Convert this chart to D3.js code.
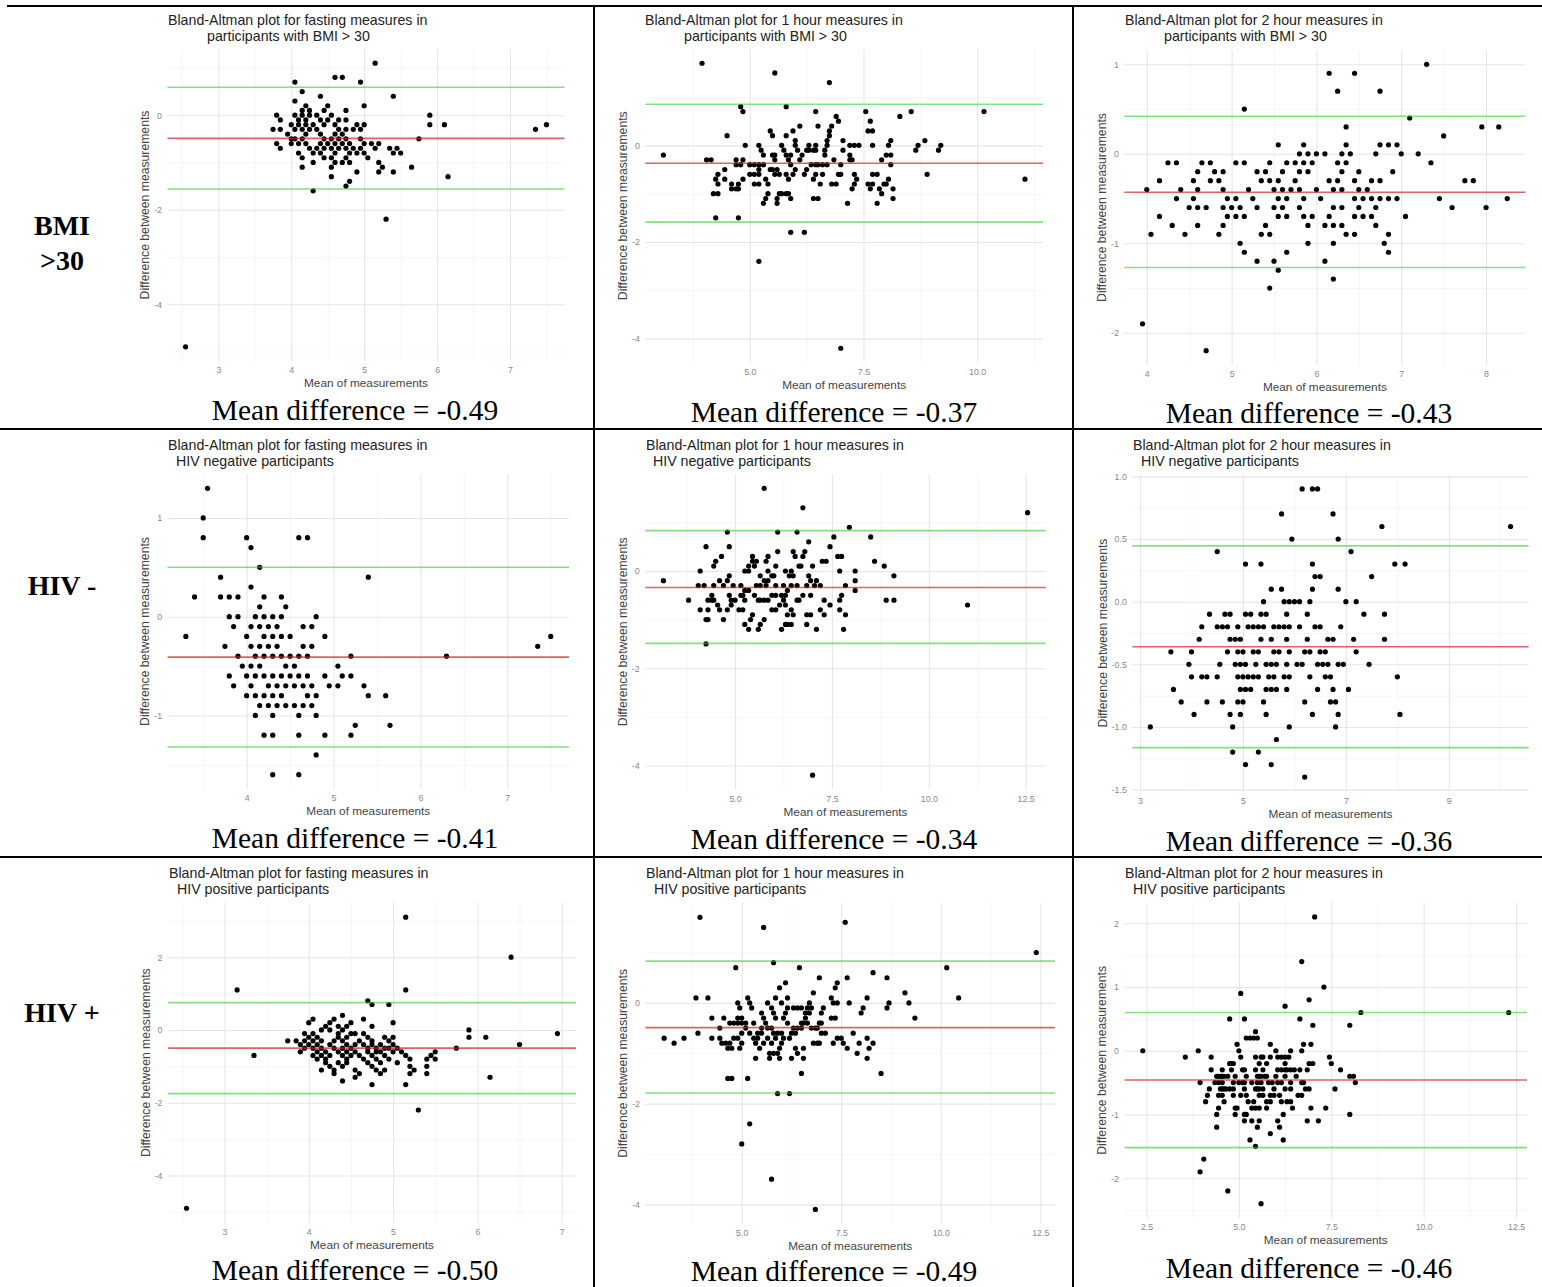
<!DOCTYPE html>
<html>
<head>
<meta charset="utf-8">
<script src="https://cdn.jsdelivr.net/npm/d3@7"></script>
<style>
  body { margin: 0; background: #fff; }
  svg { display: block; }
</style>
</head>
<body>
<div id="chart"></div>
<script>
// each row: [difference, mean1, mean2, ...]  (points sharing the same difference)
let bmiFasting = [
  [1.1, 5.15], [0.8, 4.6, 4.7], [0.7, 4.05, 4.95], [0.5, 4.15], [0.4, 4.4, 5.4], [0.3, 4.05],
  [0.2, 4.2, 4.5, 5.0], [0.1, 4.15, 4.25, 4.45, 4.75],
  [0.0, 3.8, 4.05, 4.15, 4.25, 4.35, 4.55, 5.9],
  [-0.1, 3.85, 4.1, 4.2, 4.4, 4.5, 4.65, 4.75],
  [-0.2, 4.0, 4.1, 4.2, 4.3, 4.45, 4.6, 4.9, 5.0, 5.9, 6.1, 7.5],
  [-0.3, 3.75, 3.85, 4.05, 4.15, 4.25, 4.35, 4.65, 4.75, 4.85, 4.95, 7.35],
  [-0.4, 3.95, 4.2, 4.4, 4.6, 4.7],
  [-0.5, 4.0, 4.05, 4.15, 4.45, 4.55, 4.65, 4.75, 4.95, 5.75],
  [-0.6, 3.8, 4.0, 4.1, 4.2, 4.4, 4.5, 4.6, 4.7, 4.8, 5.0, 5.1, 5.2],
  [-0.7, 3.85, 4.25, 4.35, 4.45, 4.55, 4.65, 4.75, 4.85, 4.95, 5.15, 5.35, 5.45],
  [-0.8, 4.1, 4.3, 4.4, 4.6, 4.8, 4.9, 5.0, 5.4, 5.5],
  [-0.9, 4.15, 4.45, 4.55, 4.75, 5.05],
  [-1.0, 4.3, 4.6, 4.7, 4.8, 5.2],
  [-1.1, 4.15, 4.55, 5.25, 5.65], [-1.2, 4.9, 5.2, 5.4], [-1.3, 4.55, 6.15],
  [-1.4, 4.8], [-1.5, 4.75], [-1.6, 4.3], [-2.2, 5.3], [-4.9, 2.55]
];

let bmi1h = [
  [1.7, 3.95], [1.5, 5.55], [1.3, 6.75], [0.8, 4.8, 5.8],
  [0.7, 4.85, 6.45, 7.55, 8.55, 10.15], [0.6, 6.9, 8.3], [0.5, 6.95, 7.65],
  [0.4, 6.1, 6.5, 6.8], [0.3, 5.45, 5.95, 6.75, 7.6, 7.7], [0.2, 4.5, 5.5, 5.8, 6.75],
  [0.1, 6.0, 6.7, 7.05, 8.1, 8.85],
  [0.0, 4.9, 5.2, 5.7, 6.0, 6.3, 6.45, 6.7, 7.2, 7.3, 7.4, 7.7, 8.05, 8.7, 9.2],
  [-0.1, 5.25, 5.75, 6.05, 6.25, 6.3, 6.4, 6.45, 6.65, 7.05, 8.65, 9.15],
  [-0.2, 3.1, 5.3, 5.5, 5.55, 5.8, 5.9, 6.15, 6.65, 7.2, 8.0, 8.1],
  [-0.3, 4.05, 4.15, 4.7, 4.85, 5.55, 5.85, 6.1, 6.85, 7.2, 7.25, 7.9],
  [-0.4, 4.7, 4.8, 5.0, 5.1, 5.2, 5.3, 5.9, 6.35, 6.45, 6.5, 6.6, 6.7, 7.0, 8.1],
  [-0.5, 4.45, 5.2, 5.45, 5.5, 5.6, 6.0, 6.25],
  [-0.6, 4.3, 5.0, 5.1, 5.2, 5.55, 5.65, 5.8, 5.95, 6.2, 6.45, 6.6, 6.95, 7.0, 7.3, 7.7, 7.8, 8.9],
  [-0.7, 4.25, 4.45, 4.85, 5.35, 5.85, 6.4, 7.35, 8.05, 11.05],
  [-0.8, 4.3, 4.6, 4.75, 5.1, 5.2, 5.4, 6.55, 6.8, 6.9, 7.3, 7.6, 7.7, 7.95, 8.0],
  [-0.9, 4.6, 4.7, 4.75, 7.25, 7.65, 7.85, 8.15],
  [-1.0, 4.2, 4.3, 5.4, 5.65, 5.7, 5.8, 5.85, 7.9],
  [-1.1, 5.35, 5.6, 5.9, 6.4, 6.5, 8.15], [-1.2, 5.3, 5.6, 7.15, 7.8],
  [-1.5, 4.25, 4.75], [-1.8, 5.9, 6.2], [-2.4, 5.2], [-4.2, 7.0]
];

let bmi2h = [
  [1.0, 7.3], [0.9, 6.15, 6.45], [0.7, 6.25, 6.75], [0.5, 5.15], [0.4, 7.1],
  [0.3, 6.35, 7.95, 8.15], [0.2, 7.5], [0.1, 5.55, 5.85, 6.35, 6.75, 6.85, 6.95],
  [0.0, 5.8, 5.9, 6.0, 6.1, 6.3, 6.4, 6.7, 7.0, 7.2],
  [-0.1, 4.25, 4.35, 4.65, 4.75, 5.05, 5.15, 5.45, 5.65, 5.75, 5.85, 5.95, 6.25, 6.35, 7.35],
  [-0.2, 4.6, 4.8, 4.9, 5.3, 5.4, 5.6, 5.8, 5.9, 6.3, 6.5, 6.9],
  [-0.3, 4.15, 4.55, 4.75, 4.85, 5.35, 5.45, 5.55, 5.75, 6.15, 6.25, 6.45, 6.65, 6.75, 7.75, 7.85],
  [-0.4, 4.0, 4.4, 4.6, 4.9, 5.2, 5.5, 5.6, 5.7, 5.8, 6.0, 6.2, 6.3, 6.5, 6.6],
  [-0.5, 4.35, 4.55, 4.95, 5.05, 5.25, 5.55, 5.65, 5.85, 6.05, 6.45, 6.55, 6.65, 6.75, 6.85, 6.95, 7.45, 8.25],
  [-0.6, 4.5, 4.6, 4.7, 4.9, 5.0, 5.1, 5.3, 5.5, 5.6, 5.8, 6.2, 6.3, 6.5, 6.7, 7.6, 8.0],
  [-0.7, 4.15, 4.95, 5.05, 5.15, 5.55, 5.65, 5.85, 5.95, 6.15, 6.45, 6.55, 6.65, 7.05],
  [-0.8, 4.3, 4.6, 4.9, 5.4, 5.9, 6.1, 6.2, 6.3, 6.7],
  [-0.9, 4.05, 4.45, 4.85, 5.35, 5.45, 6.35, 6.45, 6.85],
  [-1.0, 5.1, 5.9, 6.2, 6.8], [-1.1, 5.15, 5.65, 6.85], [-1.2, 5.3, 5.5, 6.1],
  [-1.3, 5.55], [-1.4, 6.2], [-1.5, 5.45], [-1.9, 3.95], [-2.2, 4.7]
];

let hivNegFasting = [
  [1.3, 3.55], [1.0, 3.5], [0.8, 3.5, 4.0, 4.6, 4.7], [0.7, 4.05], [0.5, 4.15],
  [0.4, 3.7, 5.4], [0.3, 4.05], [0.2, 3.4, 3.7, 3.8, 3.9, 4.2, 4.4], [0.1, 4.15, 4.45],
  [0.0, 3.8, 3.9, 4.1, 4.2, 4.3, 4.4, 4.8],
  [-0.1, 3.85, 4.05, 4.15, 4.25, 4.35, 4.65, 4.75],
  [-0.2, 3.3, 4.0, 4.2, 4.3, 4.4, 4.5, 4.9, 7.5],
  [-0.3, 3.75, 4.05, 4.15, 4.25, 4.35, 4.65, 4.75, 7.35],
  [-0.4, 3.9, 4.1, 4.2, 4.3, 4.4, 4.5, 4.6, 4.7, 5.2, 6.3],
  [-0.5, 3.95, 4.05, 4.15, 4.45, 4.55, 5.05],
  [-0.6, 3.8, 4.0, 4.1, 4.2, 4.3, 4.4, 4.5, 4.6, 4.7, 4.9, 5.1, 5.2],
  [-0.7, 3.85, 4.05, 4.25, 4.35, 4.45, 4.55, 4.65, 4.75, 4.95, 5.05, 5.35],
  [-0.8, 4.0, 4.1, 4.2, 4.3, 4.4, 4.7, 4.8, 5.4, 5.6],
  [-0.9, 4.15, 4.25, 4.35, 4.45, 4.55, 4.65, 4.75],
  [-1.0, 4.1, 4.3, 4.6, 4.8], [-1.1, 5.25, 5.65], [-1.2, 4.2, 4.3, 4.6, 4.9, 5.2],
  [-1.4, 4.8], [-1.6, 4.3, 4.6]
];

let hivNeg1h = [
  [1.7, 5.75], [1.3, 6.75], [1.2, 12.55], [0.9, 7.95], [0.8, 4.8, 6.1, 6.6],
  [0.7, 7.55, 8.5], [0.6, 6.9], [0.5, 4.25, 4.85, 7.45], [0.4, 6.1, 6.5, 6.8],
  [0.3, 4.65, 5.45, 5.85, 6.55, 6.75, 7.65, 7.75],
  [0.2, 4.5, 5.45, 5.55, 5.8, 7.25, 7.35, 8.6],
  [0.1, 4.45, 5.35, 5.5, 6.05, 6.65, 6.7, 7.0, 8.85],
  [0.0, 4.1, 5.25, 5.35, 5.85, 6.3, 6.45, 7.7, 8.1],
  [-0.1, 4.85, 5.65, 5.95, 6.0, 6.4, 6.5, 6.9, 9.1],
  [-0.2, 3.15, 4.6, 4.8, 5.75, 5.85, 6.95, 7.1, 8.1],
  [-0.3, 4.05, 4.2, 4.45, 4.7, 4.95, 5.15, 5.55, 5.65, 5.8, 6.05, 6.25, 6.45, 6.6, 6.85, 7.05, 7.2, 7.85],
  [-0.4, 5.25, 5.35, 6.35, 8.1],
  [-0.5, 4.4, 4.85, 5.15, 5.2, 5.5, 5.95, 6.05, 6.2, 6.3, 6.75, 6.95, 7.75],
  [-0.6, 3.8, 4.3, 4.4, 4.45, 4.9, 5.0, 5.25, 5.6, 5.65, 5.75, 5.85, 6.25, 6.6, 6.65, 7.3, 7.7, 8.9, 9.1],
  [-0.7, 4.55, 4.9, 6.15, 6.3, 7.45, 11.0],
  [-0.8, 4.1, 4.3, 4.6, 4.8, 5.1, 5.2, 5.95, 6.05, 6.45, 7.2, 7.7],
  [-0.9, 5.45, 6.35, 6.5, 6.85, 6.95, 7.3, 7.85],
  [-1.0, 4.25, 4.3, 4.7, 5.4, 5.75],
  [-1.1, 5.25, 5.65, 6.3, 6.35, 6.45, 6.85],
  [-1.2, 5.35, 5.6, 6.2, 7.1, 7.8], [-1.5, 4.25], [-4.2, 7.0]
];

let hivNeg2h = [
  [0.9, 6.15, 6.35, 6.45], [0.7, 5.75, 6.75], [0.6, 7.7, 10.2], [0.5, 5.95, 6.85],
  [0.4, 4.5, 7.1], [0.3, 5.05, 5.35, 6.35, 7.95, 8.15], [0.2, 6.4, 6.5, 7.5],
  [0.1, 5.55, 5.75, 6.35, 6.85],
  [0.0, 5.4, 5.8, 5.9, 6.0, 6.1, 6.3, 7.0, 7.2],
  [-0.1, 4.35, 4.65, 4.75, 5.05, 5.15, 5.35, 5.45, 5.85, 6.25, 7.35, 7.75],
  [-0.2, 4.2, 4.5, 4.6, 4.7, 4.9, 5.1, 5.2, 5.3, 5.4, 5.6, 5.7, 5.8, 5.9, 6.1, 6.4, 6.5, 6.9],
  [-0.3, 4.15, 4.75, 4.85, 4.95, 5.35, 5.55, 5.85, 6.25, 6.65, 6.75, 7.15, 7.75],
  [-0.4, 3.6, 4.0, 4.7, 4.9, 5.0, 5.2, 5.3, 5.6, 5.7, 5.9, 6.2, 6.3, 6.5, 6.6, 7.2],
  [-0.5, 3.95, 4.55, 4.85, 4.95, 5.05, 5.25, 5.45, 5.55, 5.65, 5.85, 6.05, 6.15, 6.45, 6.55, 6.65, 6.85, 6.95, 7.45],
  [-0.6, 4.0, 4.2, 4.3, 4.5, 4.9, 5.0, 5.1, 5.2, 5.3, 5.5, 5.6, 5.8, 5.9, 6.3, 6.6, 6.7, 8.0],
  [-0.7, 3.65, 4.95, 5.05, 5.15, 5.45, 5.55, 5.65, 5.85, 6.45, 6.75, 7.05],
  [-0.8, 3.8, 4.3, 4.6, 4.9, 5.0, 5.4, 6.2, 6.7, 6.8],
  [-0.9, 4.05, 4.75, 4.95, 5.45, 6.35, 6.85, 8.05],
  [-1.0, 3.2, 4.8, 5.9, 6.8], [-1.1, 5.65], [-1.2, 4.8, 5.3], [-1.3, 5.05, 5.55], [-1.4, 6.2]
];

let hivPosFasting = [
  [3.1, 5.15], [2.0, 6.4], [1.1, 3.15, 5.15], [0.8, 4.7], [0.7, 4.75, 4.95], [0.4, 4.4],
  [0.3, 4.05, 4.3, 4.65], [0.2, 4.0, 4.25, 4.5, 5.0], [0.1, 4.2, 4.35, 4.45, 4.75],
  [0.0, 4.15, 4.25, 4.4, 5.9],
  [-0.1, 3.95, 4.05, 4.35, 4.5, 4.55, 4.65, 6.95],
  [-0.2, 4.0, 4.1, 4.35, 4.45, 4.7, 4.9, 5.0, 5.9, 6.1],
  [-0.3, 3.75, 3.85, 3.95, 4.05, 4.15, 4.3, 4.4, 4.6, 4.75, 4.95],
  [-0.4, 3.9, 4.0, 4.1, 4.25, 4.45, 4.55, 4.65, 4.75, 4.85, 5.0, 6.5],
  [-0.5, 3.95, 4.05, 4.15, 4.3, 4.4, 4.5, 4.7, 4.8, 4.9, 4.95, 5.05, 5.75],
  [-0.6, 3.9, 4.1, 4.2, 4.35, 4.45, 4.55, 4.7, 4.8, 4.85, 5.0, 5.1, 5.5],
  [-0.7, 3.35, 4.05, 4.15, 4.25, 4.4, 4.5, 4.6, 4.75, 4.9, 5.15, 5.45],
  [-0.8, 4.1, 4.2, 4.45, 4.65, 4.8, 4.95, 5.2, 5.4, 5.5],
  [-0.9, 4.2, 4.35, 4.45, 4.7, 4.85, 5.05],
  [-1.0, 4.25, 4.4, 4.75, 5.2, 5.4],
  [-1.1, 4.15, 4.3, 4.55, 4.8, 4.9, 5.25],
  [-1.2, 4.3, 4.6, 4.85, 5.2, 5.4],
  [-1.3, 4.55, 6.15], [-1.4, 4.4], [-1.5, 4.75, 5.15], [-2.2, 5.3], [-4.9, 2.55]
];

let hivPos1h = [
  [1.7, 3.95], [1.6, 7.6], [1.5, 5.55], [1.0, 12.4], [0.8, 5.8], [0.7, 4.85, 6.45, 10.15],
  [0.6, 8.3], [0.5, 6.95, 7.65, 8.65], [0.4, 6.1, 7.4], [0.3, 5.95, 7.35], [0.2, 6.8, 9.1],
  [0.1, 3.85, 4.15, 5.15, 5.85, 6.15, 7.25, 8.15, 10.45],
  [0.0, 4.9, 5.2, 5.65, 6.0, 6.7, 7.3, 7.4, 7.7, 8.7, 9.2],
  [-0.1, 4.95, 5.25, 5.75, 6.15, 6.3, 6.4, 6.5, 6.65, 6.75, 7.05, 8.05, 8.65],
  [-0.2, 5.5, 5.8, 6.1, 6.6, 6.7, 7.0, 8.0],
  [-0.3, 4.25, 4.55, 4.9, 5.0, 5.55, 5.85, 6.05, 6.6, 7.25, 7.35, 9.35],
  [-0.4, 4.7, 4.8, 4.9, 5.0, 5.1, 5.3, 5.6, 6.15, 6.5, 6.55, 6.65, 6.95, 7.0],
  [-0.5, 4.45, 5.1, 5.5, 5.65, 5.75, 6.3, 6.4, 6.5, 6.75, 6.85, 6.9],
  [-0.6, 3.9, 5.0, 5.2, 5.4, 5.5, 5.8, 5.9, 6.0, 6.25, 6.35, 7.0, 7.1, 7.8],
  [-0.7, 3.05, 3.55, 4.25, 4.45, 4.8, 4.9, 5.3, 5.4, 5.65, 5.85, 6.05, 6.2, 7.4, 7.5, 8.15],
  [-0.8, 3.3, 4.5, 4.6, 4.7, 5.0, 5.35, 5.55, 5.75, 6.0, 6.8, 6.9, 6.95, 7.3, 7.55, 7.95, 8.3],
  [-0.9, 4.65, 4.75, 4.95, 5.45, 5.95, 6.35, 6.55, 7.65, 8.2],
  [-1.0, 5.7, 5.8, 5.9, 6.4, 7.9],
  [-1.1, 5.35, 5.7, 5.95, 6.25, 6.55, 8.15],
  [-1.4, 6.5, 8.5], [-1.5, 4.65, 4.75, 5.15], [-1.8, 5.9, 6.2],
  [-2.4, 5.2], [-2.8, 5.0], [-3.5, 5.75], [-4.1, 6.85]
];

let hivPos2h = [
  [2.1, 7.05], [1.4, 6.7], [1.0, 7.3], [0.9, 5.05], [0.8, 6.9], [0.7, 6.25],
  [0.6, 8.3, 12.3], [0.5, 4.75, 5.15, 6.65], [0.4, 7.0, 8.0], [0.3, 5.45],
  [0.2, 5.2, 5.3, 5.4, 5.5], [0.1, 4.95, 5.85, 6.75, 6.95],
  [0.0, 2.4, 3.9, 5.0, 6.0, 6.4, 6.7],
  [-0.1, 3.55, 4.25, 5.05, 5.45, 5.6, 5.65, 5.85, 6.05, 6.15, 6.25, 6.35, 7.45],
  [-0.2, 4.75, 4.8, 4.85, 5.55, 5.75, 6.25, 6.9, 7.0, 7.5],
  [-0.3, 4.25, 4.55, 4.8, 5.1, 5.15, 5.45, 5.65, 6.05, 6.15, 6.25, 6.3, 6.4, 6.5, 6.65, 6.85, 7.75],
  [-0.4, 4.4, 4.45, 4.5, 4.55, 4.6, 4.7, 4.9, 5.2, 5.5, 5.55, 5.6, 5.7, 5.75, 6.0, 6.25, 6.55, 8.0, 8.1],
  [-0.5, 3.95, 4.35, 4.45, 4.55, 4.85, 5.0, 5.1, 5.15, 5.35, 5.5, 5.6, 5.8, 5.9, 6.05, 6.15, 6.4, 6.7, 6.75, 8.15],
  [-0.6, 4.2, 4.5, 4.55, 4.6, 4.65, 4.75, 4.85, 5.15, 5.45, 5.5, 5.55, 5.65, 5.95, 6.25, 6.4, 6.8, 6.9, 7.6],
  [-0.7, 4.15, 4.45, 4.55, 4.85, 5.05, 5.2, 5.55, 5.65, 5.85, 5.95, 6.1, 6.6, 6.7],
  [-0.8, 4.1, 4.6, 5.25, 5.4, 5.75, 5.85, 6.15, 6.3, 6.4],
  [-0.9, 4.45, 4.9, 4.95, 5.35, 5.45, 5.55, 5.75, 6.45, 6.95, 7.35],
  [-1.0, 4.4, 4.9, 5.15, 5.2, 6.2, 8.0],
  [-1.1, 5.15, 5.35, 5.55, 6.05, 6.85, 7.15],
  [-1.2, 4.4, 5.5, 6.1], [-1.3, 5.85], [-1.4, 5.3, 6.2], [-1.5, 5.45],
  [-1.7, 4.05], [-1.9, 3.95], [-2.2, 4.7], [-2.4, 5.6]
];

let panelData = [bmiFasting, bmi1h, bmi2h, hivNegFasting, hivNeg1h, hivNeg2h, hivPosFasting, hivPos1h, hivPos2h];

let meanDiff = [-0.49, -0.37, -0.43, -0.41, -0.34, -0.36, -0.50, -0.49, -0.46];
let meanDiffText = ["-0.49", "-0.37", "-0.43", "-0.41", "-0.34", "-0.36", "-0.50", "-0.49", "-0.46"];
let upperLimit = [0.59, 0.85, 0.42, 0.50, 0.83, 0.445, 0.75, 0.83, 0.60];
let lowerLimit = [-1.56, -1.59, -1.27, -1.32, -1.49, -1.165, -1.75, -1.79, -1.52];

let titleLine1 = [
  "Bland-Altman plot for fasting measures in",
  "Bland-Altman plot for 1 hour measures in",
  "Bland-Altman plot for 2 hour measures in",
  "Bland-Altman plot for fasting measures in",
  "Bland-Altman plot for 1 hour measures in",
  "Bland-Altman plot for 2 hour measures in",
  "Bland-Altman plot for fasting measures in",
  "Bland-Altman plot for 1 hour measures in",
  "Bland-Altman plot for 2 hour measures in"
];
let titleLine2 = [
  "participants with BMI > 30", "participants with BMI > 30", "participants with BMI > 30",
  "HIV negative participants", "HIV negative participants", "HIV negative participants",
  "HIV positive participants", "HIV positive participants", "HIV positive participants"
];

let rowLabels = [["BMI", ">30"], ["HIV -"], ["HIV +"]];

let xTickVals = [
  [3, 4, 5, 6, 7], [5, 7.5, 10], [4, 5, 6, 7, 8],
  [4, 5, 6, 7], [5, 7.5, 10, 12.5], [3, 5, 7, 9],
  [3, 4, 5, 6, 7], [5, 7.5, 10, 12.5], [2.5, 5, 7.5, 10, 12.5]
];
let xTickLabels = [
  ["3", "4", "5", "6", "7"], ["5.0", "7.5", "10.0"], ["4", "5", "6", "7", "8"],
  ["4", "5", "6", "7"], ["5.0", "7.5", "10.0", "12.5"], ["3", "5", "7", "9"],
  ["3", "4", "5", "6", "7"], ["5.0", "7.5", "10.0", "12.5"], ["2.5", "5.0", "7.5", "10.0", "12.5"]
];
let yTickVals = [
  [-4, -2, 0], [-4, -2, 0], [-2, -1, 0, 1],
  [-1, 0, 1], [-4, -2, 0], [-1.5, -1, -0.5, 0, 0.5, 1],
  [-4, -2, 0, 2], [-4, -2, 0], [-2, -1, 0, 1, 2]
];
let yTickLabels = [
  ["-4", "-2", "0"], ["-4", "-2", "0"], ["-2", "-1", "0", "1"],
  ["-1", "0", "1"], ["-4", "-2", "0"], ["-1.5", "-1.0", "-0.5", "0.0", "0.5", "1.0"],
  ["-4", "-2", "0", "2"], ["-4", "-2", "0"], ["-2", "-1", "0", "1", "2"]
];

// ---- layout (pixel positions) ----
let W = 1542, H = 1287;
let panelBox = [   // [left, right, top, bottom] of the plotting area
  [167.5, 564.5, 49, 361], [645.3, 1043, 49, 362.5], [1124.3, 1525.5, 50, 365],
  [167.6, 569, 474, 789], [645.2, 1045.8, 474, 789.5], [1132.3, 1528.6, 474.5, 791.5],
  [168, 576, 902.6, 1222.8], [645.5, 1054.9, 902.7, 1224], [1124.5, 1527, 902.6, 1218]
];
let titlePos = [   // [x line1, x line2, y line1, y line2]
  [168, 207, 20, 36], [645, 684, 20, 36], [1125, 1164, 20, 36],
  [168, 176, 445, 461], [646, 653, 445, 461], [1133, 1141, 445, 461],
  [169, 177, 873, 889], [646, 654, 873, 889], [1125, 1133, 873, 889]
];
let labelPos = [
  [355, 410], [834, 412], [1309, 413],
  [355, 838], [834, 839], [1309, 841],
  [355, 1270], [834, 1270.5], [1309, 1268]
];

let sans = "'Liberation Sans', Arial, sans-serif";
let serif = "'Liberation Serif', 'Times New Roman', serif";

let svg = d3.select("#chart").append("svg")
  .attr("width", W)
  .attr("height", H)
  .style("background", "#fff");

function expand(ext) {
  let d = ext[1] - ext[0];
  return [ext[0] - 0.05 * d, ext[1] + 0.05 * d];
}

function minorBreaks(majors, domain) {
  let step = majors[1] - majors[0];
  let all = [majors[0] - step].concat(majors, [majors[majors.length - 1] + step]);
  let out = [];
  for (let i = 0; i < all.length - 1; i++) {
    let m = (all[i] + all[i + 1]) / 2;
    if (m >= domain[0] && m <= domain[1]) out.push(m);
  }
  return out;
}

function drawPanel(i) {
  let rows = panelData[i];
  let pts = [];
  for (let row of rows) {
    for (let k = 1; k < row.length; k++) pts.push([row[k], row[0]]);
  }
  let [l, r, t, b] = panelBox[i];

  let xDom = expand(d3.extent(pts, d => d[0]));
  let yDom = expand(d3.extent(pts, d => d[1]));
  let x = d3.scaleLinear().domain(xDom).range([l, r]);
  let y = d3.scaleLinear().domain(yDom).range([b, t]);

  let g = svg.append("g");

  // minor grid
  g.append("g")
    .attr("transform", "translate(0," + b + ")")
    .call(d3.axisBottom(x).tickValues(minorBreaks(xTickVals[i], xDom)).tickSize(-(b - t)).tickFormat(""))
    .call(s => s.select(".domain").remove())
    .selectAll("line").attr("stroke", "#f2f2f2").attr("stroke-width", 0.7);
  g.append("g")
    .attr("transform", "translate(" + l + ",0)")
    .call(d3.axisLeft(y).tickValues(minorBreaks(yTickVals[i], yDom)).tickSize(-(r - l)).tickFormat(""))
    .call(s => s.select(".domain").remove())
    .selectAll("line").attr("stroke", "#f2f2f2").attr("stroke-width", 0.7);

  // major grid + tick labels
  let xa = g.append("g")
    .attr("transform", "translate(0," + b + ")")
    .call(d3.axisBottom(x).tickValues(xTickVals[i]).tickSize(-(b - t)).tickPadding(6)
      .tickFormat((d, j) => xTickLabels[i][j]));
  let ya = g.append("g")
    .attr("transform", "translate(" + l + ",0)")
    .call(d3.axisLeft(y).tickValues(yTickVals[i]).tickSize(-(r - l)).tickPadding(5.5)
      .tickFormat((d, j) => yTickLabels[i][j]));
  for (let a of [xa, ya]) {
    a.select(".domain").remove();
    a.selectAll("line").attr("stroke", "#e6e6e6").attr("stroke-width", 1.1);
    a.selectAll("text")
      .attr("fill", "#888")
      .style("font-family", sans)
      .style("font-size", "8.8px");
  }

  // widest y tick label, to place the y title beside it
  let labW = 0;
  ya.selectAll("text").each(function() { labW = Math.max(labW, this.getComputedTextLength()); });

  // points
  g.append("g").selectAll("circle")
    .data(pts)
    .enter()
    .append("circle")
    .attr("cx", d => x(d[0]))
    .attr("cy", d => y(d[1]))
    .attr("r", 2.6)
    .attr("fill", "#000");

  // mean and limits of agreement
  let hl = [
    { v: upperLimit[i], c: "#33cc33", o: 0.6 },
    { v: meanDiff[i], c: "#cc2222", o: 0.7 },
    { v: lowerLimit[i], c: "#33cc33", o: 0.6 }
  ];
  g.append("g").selectAll("line")
    .data(hl)
    .enter()
    .append("line")
    .attr("x1", l)
    .attr("x2", r)
    .attr("y1", d => y(d.v))
    .attr("y2", d => y(d.v))
    .attr("stroke", d => d.c)
    .attr("stroke-opacity", d => d.o)
    .attr("stroke-width", 1.6);

  // titles
  let tp = titlePos[i];
  [[titleLine1[i], tp[0], tp[2]], [titleLine2[i], tp[1], tp[3]]].forEach(function(d) {
    g.append("text")
      .attr("x", d[1]).attr("y", d[2])
      .attr("dominant-baseline", "central")
      .style("font-family", sans)
      .style("font-size", "14.2px")
      .attr("fill", "#222")
      .text(d[0]);
  });

  // axis titles
  g.append("text")
    .attr("x", (l + r) / 2)
    .attr("y", b + 22)
    .attr("text-anchor", "middle")
    .attr("dominant-baseline", "central")
    .style("font-family", sans)
    .style("font-size", "11.8px")
    .attr("fill", "#444")
    .text("Mean of measurements");
  g.append("text")
    .attr("transform", "translate(" + (l - 5.5 - labW - 9) + "," + ((t + b) / 2) + ") rotate(-90)")
    .attr("text-anchor", "middle")
    .attr("dominant-baseline", "central")
    .style("font-family", sans)
    .style("font-size", "12.2px")
    .attr("fill", "#444")
    .text("Difference between measurements");

  // mean difference caption
  g.append("text")
    .attr("x", labelPos[i][0])
    .attr("y", labelPos[i][1])
    .attr("text-anchor", "middle")
    .attr("dominant-baseline", "central")
    .style("font-family", serif)
    .style("font-size", "29.5px")
    .attr("fill", "#000")
    .text("Mean difference = " + meanDiffText[i]);
}

for (let i = 0; i < 9; i++) drawPanel(i);

// row labels
let rowCenters = [243, 585, 1012];
rowLabels.forEach(function(lines, r) {
  let t = svg.append("text")
    .attr("text-anchor", "middle")
    .style("font-family", serif)
    .style("font-size", "28px")
    .style("font-weight", "bold")
    .attr("fill", "#000");
  lines.forEach(function(s, k) {
    t.append("tspan")
      .attr("x", 62)
      .attr("y", rowCenters[r] + (k - (lines.length - 1) / 2) * 35)
      .attr("dominant-baseline", "central")
      .text(s);
  });
});

// table rules
let rules = svg.append("g").attr("stroke", "#000").attr("stroke-width", 2);
rules.append("line").attr("x1", 7).attr("x2", W).attr("y1", 6).attr("y2", 6);
rules.append("line").attr("x1", 0).attr("x2", W).attr("y1", 429).attr("y2", 429);
rules.append("line").attr("x1", 0).attr("x2", W).attr("y1", 857).attr("y2", 857);
rules.append("line").attr("x1", 594).attr("x2", 594).attr("y1", 6).attr("y2", H);
rules.append("line").attr("x1", 1073).attr("x2", 1073).attr("y1", 6).attr("y2", H);
</script>
</body>
</html>
